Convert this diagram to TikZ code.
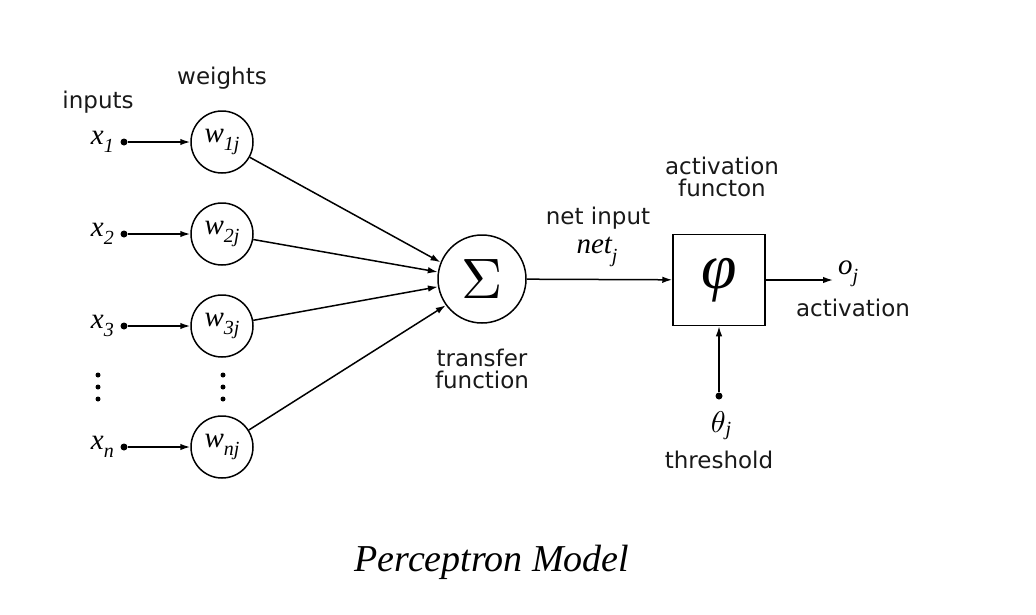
\documentclass[tikz,border=0pt]{standalone}
\usepackage[no-math]{fontspec}
\setmainfont{DejaVu Sans}
\newfontfamily\tms{Liberation Serif}
\usetikzlibrary{arrows.meta}
\newcommand\isub[2]{{\tms\itshape #1}\raisebox{-0.28em}{\fontsize{20}{20}\selectfont\tms\itshape #2}}
\begin{document}
\begin{tikzpicture}[x=1pt,y=-1pt,
  lbl/.style={font=\fontsize{23}{23}\selectfont, inner sep=0pt, text=black!90},
  lbltwo/.style={font=\fontsize{23}{23}\selectfont, inner sep=0pt, align=center, text=black!90},
  mth/.style={font=\fontsize{29}{29}\selectfont, inner sep=0pt},
  wcirc/.style={draw, circle, line width=1.5pt, minimum size=62pt, inner sep=0pt, font=\fontsize{29}{29}\selectfont},
  dotn/.style={circle, fill, inner sep=0pt, minimum size=7pt},
  vdot/.style={circle, fill, inner sep=0pt, minimum size=5pt},
  conn/.style={line width=1.5pt, -{Latex[length=10pt,width=6.5pt]}}]
\useasboundingbox (0,0) rectangle (1036,614);

% headings
\node[lbl] (inputs) at (98,102) {inputs};
\node[lbl] (weights) at (222,78) {weights};

% inputs
\node[mth, anchor=east] (x1) at (114,142) {\isub{x}{1}};
\node[mth, anchor=east] (x2) at (114,234) {\isub{x}{2}};
\node[mth, anchor=east] (x3) at (114,326) {\isub{x}{3}};
\node[mth, anchor=east] (xn) at (114,447) {\isub{x}{n}};

\node[dotn] (d1) at (124,142) {};
\node[dotn] (d2) at (124,234) {};
\node[dotn] (d3) at (124,326) {};
\node[dotn] (dn) at (124,447) {};

% weights
\node[wcirc] (w1) at (222,142) {\isub{w}{1j}};
\node[wcirc] (w2) at (222,234) {\isub{w}{2j}};
\node[wcirc] (w3) at (222,326) {\isub{w}{3j}};
\node[wcirc] (wn) at (222,447) {\isub{w}{nj}};

% vertical ellipses
\node[vdot] (ea1) at (98,375) {};
\node[vdot] (ea2) at (98,387) {};
\node[vdot] (ea3) at (98,399) {};
\node[vdot] (eb1) at (223,375) {};
\node[vdot] (eb2) at (223,387) {};
\node[vdot] (eb3) at (223,399) {};

\draw[conn] (d1) -- (w1);
\draw[conn] (d2) -- (w2);
\draw[conn] (d3) -- (w3);
\draw[conn] (dn) -- (wn);

% transfer function
\node[draw, circle, line width=1.5pt, minimum size=88pt, inner sep=0pt] (sigma) at (482,279) {\scalebox{5.7}{$\Sigma$}};
\node[lbltwo] (transfer) at (482,369) {transfer\\[-1pt]function};

\draw[conn] (w1) -- (sigma.158);
\draw[conn] (w2) -- (sigma.171);
\draw[conn] (w3) -- (sigma.190);
\draw[conn] (wn) -- (sigma.216);

% activation box
\node[draw, line width=1.5pt, minimum width=92pt, minimum height=91pt, inner sep=0pt, font=\fontsize{64}{64}\selectfont\tms\itshape] (phi) at (719,280) {φ};
\node[lbltwo] (actf) at (722,177) {activation\\[-1pt]functon};

\node[lbl] (netin) at (598,218) {net input};
\node[mth] (netj) at (597,252) {\isub{net}{j}};
\draw[conn] (sigma) -- (phi);

% output
\coordinate (oend) at (833,280);
\draw[conn] (phi) -- (oend);
\node[mth, anchor=west] (oj) at (838,274) {\isub{o}{j}};
\node[lbl] (act) at (853,308) {activation};

% threshold
\node[dotn] (th) at (719,396) {};
\draw[conn] (th) -- (phi);
\node[inner sep=0pt] (thj) at (721,426) {\scalebox{3}{$\theta$}\raisebox{-0.3em}{\fontsize{20}{20}\selectfont\tms\itshape j}};
\node[lbl] (thresh) at (719,460) {threshold};

% caption
\node[inner sep=0pt, font=\fontsize{38}{38}\selectfont\tms\itshape] (cap) at (492,562) {Perceptron Model};
\end{tikzpicture}
\end{document}
